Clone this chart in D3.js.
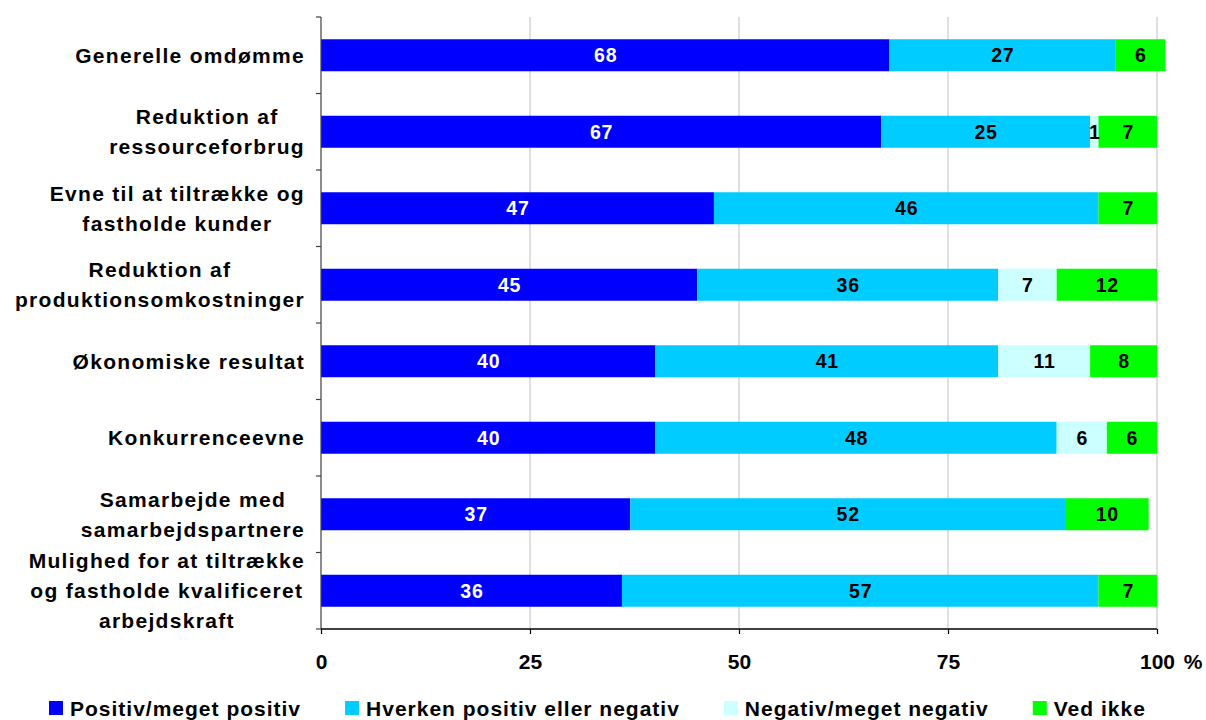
<!DOCTYPE html>
<html>
<head>
<meta charset="utf-8">
<script src="https://cdn.jsdelivr.net/npm/d3@7/dist/d3.min.js"></script>
<style>
  html, body { margin: 0; padding: 0; background: #ffffff; }
  svg { display: block; }
  text { font-family: "Liberation Sans", Arial, sans-serif; font-weight: bold; }
</style>
</head>
<body>
<svg id="chart" width="1206" height="720"></svg>
<script>
// ---- Data ----
const categories = [
  ["Generelle omdømme"],
  ["Reduktion af", "ressourceforbrug"],
  ["Evne til at tiltrække og", "fastholde kunder"],
  ["Reduktion af", "produktionsomkostninger"],
  ["Økonomiske resultat"],
  ["Konkurrenceevne"],
  ["Samarbejde med", "samarbejdspartnere"],
  ["Mulighed for at tiltrække", "og fastholde kvalificeret", "arbejdskraft"]
];
const seriesNames = ["Positiv/meget positiv", "Hverken positiv eller negativ", "Negativ/meget negativ", "Ved ikke"];
const positiv   = [68, 67, 47, 45, 40, 40, 37, 36];
const hverken   = [27, 25, 46, 36, 41, 48, 52, 57];
const negativ   = [0, 1, 0, 7, 11, 6, 0, 0];
const vedIkke   = [6, 7, 7, 12, 8, 6, 10, 7];
const xTicks    = [0, 25, 50, 75, 100];
const colors    = ["#0000ff", "#00ccff", "#ccffff", "#00ff00"];
const labelColors = ["#ffffff", "#000000", "#000000", "#000000"];

// ---- Layout ----
const svg = d3.select("#chart");
const plot = { left: 321, right: 1157, top: 17, bottom: 629 };

const x = d3.scaleLinear().domain([0, 100]).range([plot.left, plot.right]);

const rows = categories.map((c, i) => ({ i, values: [positiv[i], hverken[i], negativ[i], vedIkke[i]] }));
const keys = [0, 1, 2, 3];
const stacked = d3.stack().keys(keys).value((d, k) => d.values[k])(rows);

// gridlines
svg.append("g").selectAll("line").data(xTicks.filter(t => t > 0)).join("line")
  .attr("x1", d => x(d)).attr("x2", d => x(d))
  .attr("y1", plot.top).attr("y2", plot.bottom)
  .attr("stroke", "#c0c0c0").attr("stroke-width", 1);

// bars
const bandStep = (plot.bottom - plot.top) / categories.length;
const barH = 32;
const gSeries = svg.append("g").selectAll("g").data(stacked).join("g")
  .attr("fill", (d, k) => colors[k]);
gSeries.selectAll("rect").data(d => d).join("rect")
  .attr("x", d => x(d[0]))
  .attr("width", d => x(d[1]) - x(d[0]))
  .attr("y", d => plot.top + bandStep * (d.data.i + 0.5) - barH / 2)
  .attr("height", barH);

// value labels
stacked.forEach((s, k) => {
  svg.append("g").selectAll("text").data(s.filter(d => d[1] - d[0] > 0)).join("text")
    .attr("x", d => (x(d[0]) + x(d[1])) / 2 + 0.5)
    .attr("y", d => plot.top + bandStep * (d.data.i + 0.5) + 7)
    .attr("text-anchor", "middle")
    .attr("font-size", 19.5)
    .attr("letter-spacing", 0.8)
    .attr("fill", labelColors[k])
    .text(d => d[1] - d[0]);
});

// left axis
const gl = svg.append("g");
gl.append("line").attr("x1", plot.left).attr("x2", plot.left).attr("y1", plot.top).attr("y2", plot.bottom)
  .attr("stroke", "#404040").attr("stroke-width", 1.2);
gl.selectAll("line.tick").data(d3.range(categories.length + 1)).join("line").attr("class", "tick")
  .attr("x1", plot.left - 5).attr("x2", plot.left)
  .attr("y1", d => plot.top + d * bandStep).attr("y2", d => plot.top + d * bandStep)
  .attr("stroke", "#404040").attr("stroke-width", 1.2);

// bottom axis
const xAxis = d3.axisBottom(x).tickValues(xTicks).tickSize(5).tickPadding(20).tickFormat(d3.format("d"));
const gx = svg.append("g").attr("transform", `translate(0,${plot.bottom})`).call(xAxis);
gx.select(".domain").attr("stroke", "#000").attr("stroke-width", 1.5).attr("d", `M${plot.left},0H${plot.right}`);
gx.selectAll(".tick line").attr("stroke", "#000").attr("stroke-width", 1.2);
gx.selectAll(".tick text").attr("font-size", 21).attr("font-family", "Liberation Sans, Arial, sans-serif")
  .attr("font-weight", "bold").attr("fill", "#000").attr("dy", "0.72em").attr("y", 25);
svg.append("text").attr("x", plot.right + 36).attr("y", plot.bottom + 40)
  .attr("text-anchor", "middle").attr("font-size", 21).text("%");

// category labels
const labelRight = 305;
const lineH = 30;
categories.forEach((lines, i) => {
  const cy = plot.top + bandStep * (i + 0.5);
  const g = svg.append("g");
  const texts = lines.map((ln, j) => g.append("text")
    .attr("font-size", 21).attr("letter-spacing", 1.3).attr("fill", "#000")
    .attr("text-anchor", "middle")
    .attr("y", cy + (j - (lines.length - 1) / 2) * lineH + 7.5)
    .text(ln));
  const widths = texts.map(t => t.node().getComputedTextLength());
  const maxW = d3.max(widths);
  texts.forEach(t => t.attr("x", labelRight - maxW / 2));
});

// legend
let lx = 49;
const ly = 701;
seriesNames.forEach((name, k) => {
  svg.append("rect").attr("x", lx).attr("y", ly).attr("width", 14).attr("height", 14).attr("fill", colors[k]);
  const t = svg.append("text").attr("x", lx + 21).attr("y", ly + 14.5)
    .attr("font-size", 21).attr("letter-spacing", 1).attr("fill", "#000").text(name);
  lx = lx + 21 + t.node().getComputedTextLength() + 44;
});
</script>
</body>
</html>
